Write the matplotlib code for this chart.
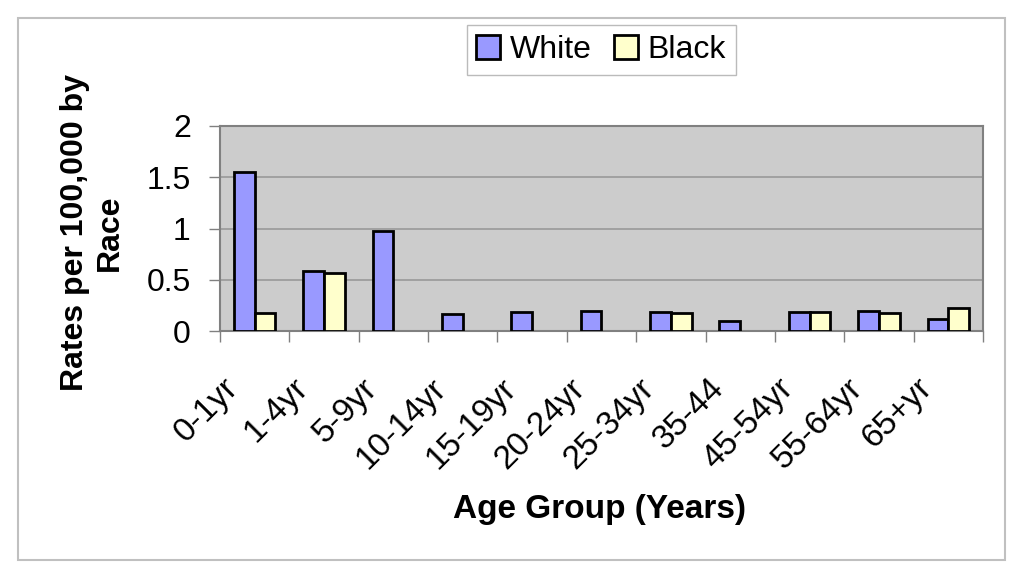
import numpy as np
import matplotlib
matplotlib.use("Agg")
import matplotlib.pyplot as plt
import matplotlib.transforms as mtransforms
from matplotlib.patches import Rectangle

categories = ["0-1yr", "1-4yr", "5-9yr", "10-14yr", "15-19yr", "20-24yr",
              "25-34yr", "35-44", "45-54yr", "55-64yr", "65+yr"]
white = [1.55, 0.59, 0.98, 0.17, 0.19, 0.20, 0.19, 0.10, 0.19, 0.20, 0.12]
black = [0.18, 0.57, np.nan, np.nan, np.nan, np.nan, 0.18, np.nan, 0.19, 0.18, 0.22]
series_names = ["White", "Black"]
yticks = [0, 0.5, 1, 1.5, 2]
ytick_labels = ["0", "0.5", "1", "1.5", "2"]

plt.rcParams['font.family'] = ['Liberation Sans', 'DejaVu Sans']

fig = plt.figure(figsize=(10.24, 5.79), dpi=100)
fig.patch.set_facecolor('white')
ax = fig.add_axes([0.2148, 0.4283, 0.7452, 0.3541])
ax.set_facecolor('#cccccc')

x = np.arange(len(categories))
bw = 0.3
ax.bar(x - bw / 2, white, width=bw, color='#9999ff', edgecolor='black',
       linewidth=2, label=series_names[0], zorder=3)
ax.bar(x + bw / 2, black, width=bw, color='#ffffcc', edgecolor='black',
       linewidth=2, label=series_names[1], zorder=3)

ax.set_xlim(-0.5, len(categories) - 0.5)
ax.set_ylim(0, 2)
ax.set_yticks(yticks)
ax.set_yticklabels(ytick_labels, fontsize=23)
ax.yaxis.grid(True, color='#999999', linewidth=1.2, zorder=0)
ax.set_axisbelow(True)

ax.set_xticks(x)
ax.set_xticklabels(categories, fontsize=24, rotation=45, ha='right', va='top',
                   rotation_mode='default')
ax.set_xticks(np.arange(len(categories) + 1) - 0.5, minor=True)
ax.tick_params(axis='x', which='major', length=0, pad=30)
ax.tick_params(axis='x', which='minor', length=8, color='#808080', width=1)
ax.tick_params(axis='y', length=8, color='#808080', width=1, pad=13)
offset = mtransforms.ScaledTranslation(-10 / 100, 0, fig.dpi_scale_trans)
for lbl in ax.get_xticklabels():
    lbl.set_transform(lbl.get_transform() + offset)

for s in ax.spines.values():
    s.set_color('#808080')
    s.set_linewidth(1.5)

fig.text(0.585, 1 - 518 / 579, "Age Group (Years)", fontsize=24,
         fontweight='bold', ha='center', va='baseline')
fig.text(0.09, 0.598, "Rates per 100,000 by\nRace", rotation=90, fontsize=23,
         fontweight='bold', ha='center', va='center', linespacing=1.2)

leg = fig.legend(loc='center', bbox_to_anchor=(0.587, 0.9136), ncol=2,
                 fontsize=23, frameon=True, fancybox=False, edgecolor='#aaaaaa',
                 handlelength=0.75, handleheight=0.75, handletextpad=0.3,
                 columnspacing=0.7, borderpad=0.3, borderaxespad=0)
leg.get_frame().set_linewidth(1)
for h in leg.legend_handles:
    h.set_linewidth(2)

fig.patches.append(Rectangle((18 / 1024, 1 - 560 / 579), (1005 - 18) / 1024,
                             (560 - 18) / 579, transform=fig.transFigure,
                             fill=False, edgecolor='#c0c0c0', linewidth=1.5))

fig.savefig("out.png", dpi=100)
